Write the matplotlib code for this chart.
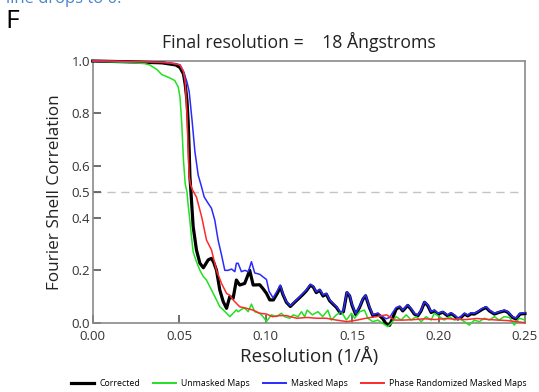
import matplotlib
matplotlib.use("Agg")
import matplotlib.pyplot as plt

plt.rcParams['font.family'] = ['Open Sans', 'DejaVu Sans']

# ---------------- data ----------------
x_corrected = [0.0, 0.02, 0.04, 0.048, 0.0505, 0.0525, 0.0535, 0.0545, 0.0552, 0.0558,
               0.0562, 0.057, 0.0581, 0.060, 0.062, 0.064, 0.0668, 0.0687, 0.070, 0.0716,
               0.0735, 0.0755, 0.0774, 0.0793, 0.0812, 0.0831, 0.085, 0.0879, 0.0908, 0.0928,
               0.0966, 0.0985, 0.1005, 0.1024, 0.1045, 0.107, 0.1085, 0.1100, 0.112, 0.1143,
               0.1168, 0.1197, 0.1216, 0.1236, 0.1259, 0.1275, 0.1293, 0.1313, 0.1332, 0.1351,
               0.137, 0.139, 0.141, 0.1432, 0.145, 0.147, 0.1486, 0.150, 0.1521, 0.1543,
               0.1563, 0.1578, 0.160, 0.162, 0.1649, 0.1678, 0.1697, 0.1717, 0.1736, 0.1755,
               0.1775, 0.1793, 0.1822, 0.184, 0.186, 0.188, 0.1899, 0.1919, 0.1938, 0.1957,
               0.1976, 0.1996, 0.2025, 0.2053, 0.2072, 0.2092, 0.2111, 0.213, 0.215, 0.2169,
               0.2188, 0.2207, 0.2226, 0.2255, 0.2275, 0.2294, 0.2323, 0.2352, 0.2381, 0.240,
               0.2428, 0.2448, 0.2471, 0.25]
y_corrected = [1.0, 0.997, 0.993, 0.985, 0.975, 0.95, 0.91, 0.85, 0.77, 0.66,
               0.56, 0.48, 0.367, 0.278, 0.227, 0.21, 0.24, 0.246, 0.23, 0.20,
               0.125, 0.08, 0.055, 0.10, 0.093, 0.163, 0.144, 0.15, 0.20, 0.144,
               0.145, 0.13, 0.112, 0.087, 0.087, 0.115, 0.138, 0.108, 0.078, 0.062,
               0.078, 0.096, 0.108, 0.122, 0.143, 0.137, 0.115, 0.124, 0.102, 0.109,
               0.084, 0.071, 0.058, 0.036, 0.042, 0.115, 0.102, 0.066, 0.031, 0.058,
               0.09, 0.103, 0.058, 0.027, 0.033, 0.015, -0.005, -0.01, 0.02, 0.052,
               0.06, 0.045, 0.066, 0.052, 0.033, 0.026, 0.045, 0.078, 0.065, 0.039,
               0.045, 0.033, 0.04, 0.026, 0.035, 0.026, 0.014, 0.02, 0.033, 0.026,
               0.034, 0.033, 0.04, 0.052, 0.058, 0.045, 0.033, 0.04, 0.045, 0.04,
               0.02, 0.014, 0.033, 0.035]

x_unmasked = [0.0, 0.01, 0.02, 0.03, 0.033, 0.037, 0.040, 0.0447, 0.0475, 0.0495,
              0.0505, 0.0515, 0.0525, 0.0535, 0.0545, 0.0552, 0.0562, 0.0571, 0.0581, 0.060,
              0.062, 0.064, 0.0658, 0.0677, 0.0697, 0.0716, 0.0735, 0.0755, 0.0774, 0.0793,
              0.0812, 0.0831, 0.0841, 0.087, 0.088, 0.0899, 0.0918, 0.0937, 0.0966, 0.0985,
              0.1005, 0.1034, 0.1062, 0.1091, 0.111, 0.114, 0.116, 0.1188, 0.1207, 0.1226,
              0.124, 0.127, 0.1303, 0.133, 0.136, 0.138, 0.1409, 0.1438, 0.1467, 0.1496,
              0.1515, 0.1544, 0.1572, 0.1591, 0.162, 0.1649, 0.1678, 0.1707, 0.1726, 0.1755,
              0.1784, 0.1813, 0.1842, 0.187, 0.19, 0.1928, 0.1957, 0.1976, 0.2005, 0.2034,
              0.2063, 0.2092, 0.212, 0.2149, 0.2178, 0.2207, 0.2236, 0.2265, 0.2294, 0.2323,
              0.235, 0.238, 0.241, 0.2438, 0.2467, 0.25]
y_unmasked = [1.0, 0.997, 0.995, 0.99, 0.985, 0.968, 0.948, 0.935, 0.925, 0.90,
              0.86, 0.76, 0.62, 0.53, 0.50, 0.45, 0.39, 0.33, 0.27, 0.233,
              0.20, 0.176, 0.163, 0.138, 0.112, 0.087, 0.061, 0.049, 0.036, 0.023,
              0.036, 0.049, 0.042, 0.055, 0.055, 0.042, 0.071, 0.042, 0.036, 0.023,
              0.005, 0.03, 0.023, 0.036, 0.023, 0.017, 0.03, 0.023, 0.042, 0.023,
              0.048, 0.03, 0.042, 0.023, 0.048, 0.01, 0.03, 0.042, 0.01, 0.036,
              0.017, 0.042, 0.048, 0.017, 0.004, 0.01, -0.003, -0.015, -0.003, 0.023,
              0.01, 0.03, 0.01, 0.023, 0.004, 0.023, 0.01, 0.036, 0.023, 0.01,
              0.023, 0.01, 0.017, 0.004, -0.009, 0.01, 0.004, 0.017, 0.01, 0.023,
              0.01, 0.023, 0.02, -0.009, 0.017, 0.01]

x_masked = [0.0, 0.02, 0.04, 0.048, 0.0505, 0.0525, 0.0545, 0.0558, 0.0575, 0.0591,
            0.061, 0.0629, 0.0645, 0.0668, 0.0687, 0.0706, 0.0725, 0.0745, 0.0764, 0.0783,
            0.0803, 0.0822, 0.0831, 0.0841, 0.086, 0.088, 0.090, 0.0918, 0.0937, 0.0966,
            0.0985, 0.1005, 0.102, 0.1043, 0.107, 0.1085, 0.1100, 0.112, 0.1143, 0.1168,
            0.1197, 0.1216, 0.1236, 0.1259, 0.1275, 0.1293, 0.1313, 0.1332, 0.1351, 0.137,
            0.139, 0.141, 0.1432, 0.145, 0.147, 0.1486, 0.150, 0.1521, 0.1543, 0.1563,
            0.1578, 0.160, 0.162, 0.1649, 0.1678, 0.1697, 0.1717, 0.1736, 0.1755, 0.1775,
            0.1793, 0.1822, 0.184, 0.186, 0.188, 0.1899, 0.1919, 0.1938, 0.1957, 0.1976,
            0.1996, 0.2025, 0.2053, 0.2072, 0.2092, 0.2111, 0.213, 0.215, 0.2169, 0.2188,
            0.2207, 0.2226, 0.2255, 0.2275, 0.2294, 0.2323, 0.2352, 0.2381, 0.240, 0.2428,
            0.2448, 0.2471, 0.25]
y_masked = [1.0, 0.998, 0.995, 0.99, 0.985, 0.96, 0.92, 0.883, 0.77, 0.654,
            0.564, 0.52, 0.48, 0.456, 0.437, 0.392, 0.316, 0.259, 0.20, 0.20,
            0.205, 0.195, 0.227, 0.227, 0.195, 0.20, 0.195, 0.233, 0.19, 0.185,
            0.175, 0.165, 0.12, 0.095, 0.125, 0.144, 0.112, 0.08, 0.065, 0.08,
            0.099, 0.112, 0.125, 0.147, 0.14, 0.118, 0.127, 0.106, 0.112, 0.087,
            0.074, 0.061, 0.04, 0.045, 0.118, 0.105, 0.07, 0.035, 0.061, 0.093,
            0.106, 0.061, 0.03, 0.036, 0.023, 0.015, 0.02, 0.04, 0.058, 0.062,
            0.048, 0.068, 0.055, 0.036, 0.029, 0.048, 0.08, 0.068, 0.042, 0.048,
            0.036, 0.042, 0.029, 0.038, 0.029, 0.017, 0.023, 0.036, 0.029, 0.038,
            0.036, 0.042, 0.055, 0.061, 0.048, 0.036, 0.042, 0.048, 0.042, 0.023,
            0.017, 0.036, 0.038]

x_phase = [0.0, 0.01, 0.02, 0.03, 0.04, 0.045, 0.0485, 0.0505, 0.0525, 0.0535,
           0.0545, 0.0552, 0.0558, 0.0565, 0.0575, 0.060, 0.063, 0.0658, 0.0687, 0.0716,
           0.0745, 0.0774, 0.0793, 0.0812, 0.0822, 0.085, 0.0889, 0.0928, 0.0966, 0.1005,
           0.104, 0.108, 0.112, 0.118, 0.124, 0.1294, 0.135, 0.141, 0.147, 0.153,
           0.158, 0.164, 0.170, 0.1745, 0.180, 0.186, 0.192, 0.198, 0.204, 0.210,
           0.216, 0.222, 0.228, 0.234, 0.240, 0.245, 0.25]
y_phase = [1.0, 1.0, 0.998, 0.997, 0.995, 0.992, 0.988, 0.985, 0.96, 0.92,
           0.80, 0.66, 0.56, 0.53, 0.51, 0.48, 0.405, 0.316, 0.278, 0.20,
           0.15, 0.112, 0.105, 0.087, 0.08, 0.061, 0.055, 0.048, 0.036, 0.033,
           0.023, 0.027, 0.027, 0.017, 0.02, 0.017, 0.017, 0.01, 0.004, 0.01,
           0.017, 0.023, 0.03, 0.01, 0.01, 0.012, 0.015, 0.012, 0.016, 0.013,
           0.012, 0.016, 0.013, 0.01, 0.008, 0.004, 0.0]

labels = ["Corrected", "Unmasked Maps", "Masked Maps", "Phase Randomized Masked Maps"]
title = "Final resolution =    18 \u00c5ngstroms"
x_ticks = [0.0, 0.05, 0.10, 0.15, 0.20, 0.25]
y_ticks = [0.0, 0.2, 0.4, 0.5, 0.6, 0.8, 1.0]
threshold = 0.5

# ---------------- figure ----------------
fig = plt.figure(figsize=(5.39, 3.92), dpi=100)
ax = fig.add_axes([0.172, 0.1768, 0.802, 0.6676])

spine_col = "#8a8a8a"
ax.axhline(threshold, color="#c4c4c4", lw=1.0, dashes=(6, 4), zorder=1)

ax.plot(x_corrected, y_corrected, color="black", lw=2.3, label=labels[0], zorder=3, clip_on=False)
ax.plot(x_unmasked, y_unmasked, color="#22e022", lw=1.1, label=labels[1], zorder=4, clip_on=False)
ax.plot(x_masked, y_masked, color="#2a2aff", lw=1.1, label=labels[2], zorder=5, clip_on=False)
ax.plot(x_phase, y_phase, color="#ff2a2a", lw=1.1, label=labels[3], zorder=6, clip_on=False)

ax.set_xlim(0, 0.25)
ax.set_ylim(0, 1.0)
ax.set_xticks(x_ticks)
ax.set_xticklabels(["%.2f" % v for v in x_ticks])
ax.set_yticks(y_ticks)
ax.set_yticklabels(["%.1f" % v for v in y_ticks])
ax.tick_params(direction="in", length=6, width=1.2, color="#555555",
               labelsize=9.5, labelcolor="#333333")
ax.tick_params(axis="x", pad=5)
ax.tick_params(axis="y", pad=2)

for s in ax.spines.values():
    s.set_color(spine_col)
    s.set_linewidth(1.2)

ax.set_xlabel("Resolution (1/\u00c5)", fontsize=13.5, color="#222222", labelpad=3)
ax.set_ylabel("Fourier Shell Correlation", fontsize=12.3, color="#222222", labelpad=6)
fig.text(0.555, 0.893, title, ha="center", va="center", fontsize=12.7, color="#222222")

fig.text(0.010, 0.945, "F", fontsize=19, color="black", ha="left", va="center")
fig.text(0.012, 1.0 - 3 / 392, "line drops to 0.", fontsize=12, color="#4a86c8",
         ha="left", va="baseline")

leg = fig.legend(loc="center", bbox_to_anchor=(0.555, 0.022), ncol=4, frameon=False,
                 fontsize=6.3, handlelength=2.6, columnspacing=1.5, handletextpad=0.6)
for line in leg.get_lines():
    line.set_linewidth(1.4)
leg.get_lines()[0].set_linewidth(2.3)

fig.savefig("out.png", dpi=100)
